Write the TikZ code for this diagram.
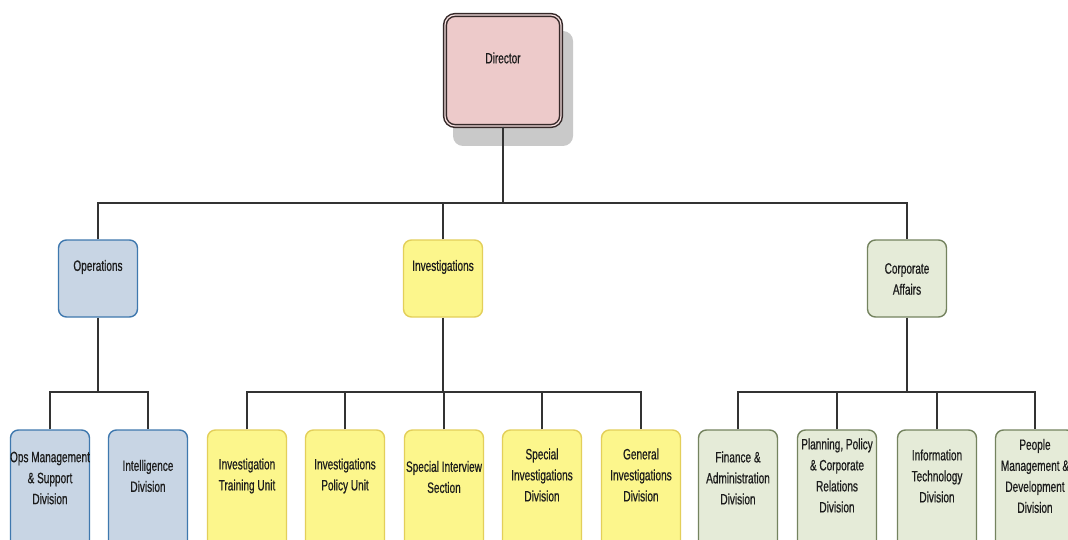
\documentclass[tikz,border=0pt]{standalone}
\usepackage{fontspec}
\setmainfont{Liberation Sans}[FakeStretch=0.67, FakeBold=0.6]
\definecolor{fillblue}{HTML}{C8D5E4}
\definecolor{drawblue}{HTML}{3F78AE}
\definecolor{fillyel}{HTML}{FCF68C}
\definecolor{drawyel}{HTML}{E3CF5A}
\definecolor{fillgrn}{HTML}{E5EBD8}
\definecolor{drawgrn}{HTML}{74835F}
\definecolor{filldir}{HTML}{EDCACA}
\definecolor{drawdir}{HTML}{352828}
\definecolor{shadowgray}{HTML}{C9C9C9}
\definecolor{linegray}{HTML}{333333}
\definecolor{textdark}{HTML}{1C1C1C}
\tikzset{
  box/.style={rectangle, rounded corners=8pt, line width=1.4pt, minimum width=79pt, minimum height=77pt, inner sep=0pt},
  childbox/.style={box, minimum height=130pt},
  bluebox/.style={draw=drawblue, fill=fillblue},
  yelbox/.style={draw=drawyel, fill=fillyel},
  grnbox/.style={draw=drawgrn, fill=fillgrn},
  dirbox/.style={rectangle, rounded corners=10pt, draw=drawdir, fill=filldir, line width=1.5pt, double=filldir!60!white, double distance=1.2pt, minimum width=116pt, minimum height=111pt, inner sep=0pt},
  shadowbox/.style={rectangle, rounded corners=10pt, fill=shadowgray, minimum width=120pt, minimum height=115pt, inner sep=0pt},
  txt/.style={font=\fontsize{15}{21}\selectfont, align=center, text=textdark, inner sep=0pt},
  conn/.style={draw=linegray, line width=1.6pt}
}
\begin{document}
\begin{tikzpicture}[x=1pt,y=-1pt]
\useasboundingbox (0,0) rectangle (1068,540);
\clip (0,0) rectangle (1068,540);
\fill[white] (0,0) rectangle (1068,540);
% Director
\node[shadowbox] (dirshadow) at (513,88.5) {};
\node[dirbox] (dir) at (503,70.5) {};
\node[txt] (dirtxt) at (503,58) {Director};
% level 1
\node[box, bluebox] (ops) at (98,278.5) {};
\node[txt] (opstxt) at (98,267) {Operations};
\node[box, yelbox] (inv) at (443,278.5) {};
\node[txt] (invtxt) at (443,267) {Investigations};
\node[box, grnbox] (corp) at (907,278.5) {};
\node[txt] (corptxt) at (907,279) {Corporate\\Affairs};
% level 2 operations
\node[childbox, bluebox] (opsmg) at (50,495) {};
\node[txt] (opsmgtxt) at (50,478) {Ops Management\\\& Support\\Division};
\node[childbox, bluebox] (intel) at (148,495) {};
\node[txt] (inteltxt) at (148,476) {Intelligence\\Division};
% level 2 investigations
\node[childbox, yelbox] (itu) at (247,495) {};
\node[txt] (itutxt) at (247,476) {Investigation\\Training Unit};
\node[childbox, yelbox] (ipu) at (345,495) {};
\node[txt] (iputxt) at (345,476) {Investigations\\Policy Unit};
\node[childbox, yelbox] (sis) at (444,495) {};
\node[txt] (sistxt) at (444,477) {Special Interview\\Section};
\node[childbox, yelbox] (sid) at (542,495) {};
\node[txt] (sidtxt) at (542,475) {Special\\Investigations\\Division};
\node[childbox, yelbox] (gid) at (641,495) {};
\node[txt] (gidtxt) at (641,475) {General\\Investigations\\Division};
% level 2 corporate
\node[childbox, grnbox] (fin) at (738,495) {};
\node[txt] (fintxt) at (738,478) {Finance \&\\Administration\\Division};
\node[childbox, grnbox] (ppc) at (837,495) {};
\node[txt] (ppctxt) at (837,475.5) {Planning, Policy\\\& Corporate\\Relations\\Division};
\node[childbox, grnbox] (it) at (937,495) {};
\node[txt] (ittxt) at (937,476) {Information\\Technology\\Division};
\node[childbox, grnbox] (pmd) at (1035,495) {};
\node[txt] (pmdtxt) at (1035,476) {People\\Management \&\\Development\\Division};
% connectors
\coordinate (busA) at (503,203);
\draw[conn] (dir.south) -- (busA);
\draw[conn] (ops.north) |- (busA) -| (corp.north);
\draw[conn] (inv.north) -- (inv.north |- busA);
\coordinate (busO) at (98,392);
\draw[conn] (ops.south) -- (busO);
\draw[conn] (opsmg.north) |- (busO) -| (intel.north);
\coordinate (busI) at (443,392);
\draw[conn] (inv.south) -- (busI);
\draw[conn] (itu.north) |- (busI) -| (gid.north);
\draw[conn] (ipu.north) -- (ipu.north |- busI);
\draw[conn] (sis.north) -- (sis.north |- busI);
\draw[conn] (sid.north) -- (sid.north |- busI);
\coordinate (busC) at (907,392);
\draw[conn] (corp.south) -- (busC);
\draw[conn] (fin.north) |- (busC) -| (pmd.north);
\draw[conn] (ppc.north) -- (ppc.north |- busC);
\draw[conn] (it.north) -- (it.north |- busC);
\end{tikzpicture}
\end{document}
